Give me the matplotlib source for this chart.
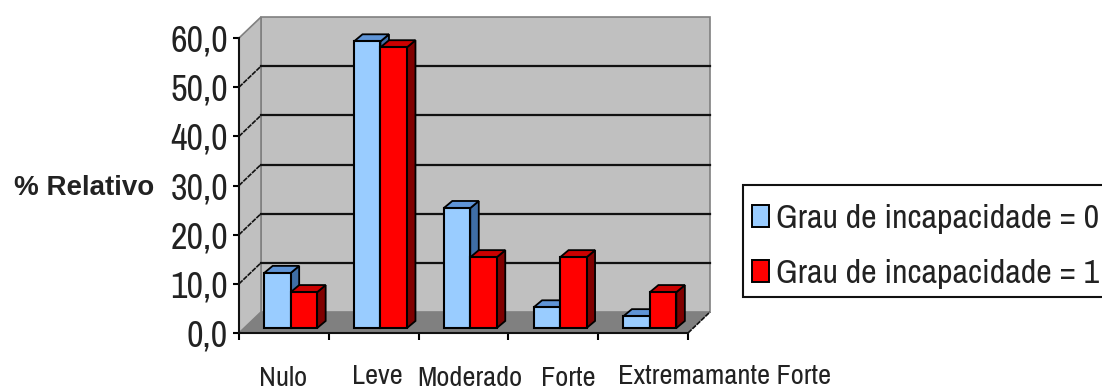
import numpy as np
import matplotlib
matplotlib.use("Agg")
import matplotlib.pyplot as plt
from matplotlib.patches import Polygon, Patch, Rectangle

plt.rcParams['font.family'] = ['Archivo Narrow', 'Liberation Sans', 'DejaVu Sans']

categories = ["Nulo", "Leve", "Moderado", "Forte", "Extremamante Forte"]
grau_0 = [11.2, 58.3, 24.4, 4.2, 2.4]
grau_1 = [7.3, 57.1, 14.4, 14.4, 7.3]
series_names = ["Grau de incapacidade = 0", "Grau de incapacidade = 1"]
yticks = [0, 10, 20, 30, 40, 50, 60]

# depth of the fake 3d box and of the bars, in data units
wall_dx, wall_dy = 0.245, 4.27
bar_dx, bar_dy = 0.095, 1.45
shift_x, floor_y = 0.075, 1.0
bar_w = 0.295

front = ["#99CCFF", "#FF0000"]
side = ["#3F6EA6", "#800000"]
top = ["#5F94D6", "#CC0000"]

# pixel offsets of the category labels below the axis
label_dx = [-1, 3.5, 6.5, 15, 81]
label_y = [-46, -43, -45, -45, -43]

fig = plt.figure(figsize=(11.02, 3.9), dpi=100)
ax = fig.add_axes([239/1102, 57/390, 449/1102, 295/390])
ax.set_xlim(-0.5, 4.5)
ax.set_ylim(0, 60)
ax.patch.set_visible(False)

x0, x1 = ax.get_xlim()
ytop = ax.get_ylim()[1]

# walls and floor
ax.add_patch(Polygon([(x0+wall_dx, wall_dy), (x1+wall_dx, wall_dy), (x1+wall_dx, ytop+wall_dy), (x0+wall_dx, ytop+wall_dy)],
                     fc="#C0C0C0", ec="#808080", lw=1.2, clip_on=False, zorder=1))
ax.add_patch(Polygon([(x0, 0), (x0+wall_dx, wall_dy), (x0+wall_dx, ytop+wall_dy), (x0, ytop)],
                     fc="#C0C0C0", ec="#808080", lw=1.2, clip_on=False, zorder=1))
ax.add_patch(Polygon([(x0, 0), (x1, 0), (x1+wall_dx, wall_dy), (x0+wall_dx, wall_dy)],
                     fc="#808080", ec="none", clip_on=False, zorder=1.5))

# gridlines go along the back wall and down the side wall
for v in yticks[1:-1]:
    ax.plot([x0+wall_dx, x1+wall_dx], [v+wall_dy, v+wall_dy], color="#111111", lw=1.6, clip_on=False, zorder=2)
    ax.plot([x0, x0+wall_dx], [v, v+wall_dy], color="#111111", lw=1.2, ls=(0, (3, 0.6)), clip_on=False, zorder=2)
ax.plot([x1, x1+wall_dx], [0, wall_dy], color="#111111", lw=1.2, ls=(0, (3, 0.6)), clip_on=False, zorder=2)

# bars, back to front so the red one covers the side of the blue one
z = 3
for i in range(len(categories)):
    for j, vals in enumerate([grau_0, grau_1]):
        left = i + shift_x + (j-1)*bar_w
        h = vals[i]
        b = floor_y
        ax.add_patch(Polygon([(left+bar_w, b), (left+bar_w+bar_dx, b+bar_dy), (left+bar_w+bar_dx, b+h+bar_dy), (left+bar_w, b+h)],
                             fc=side[j], ec="black", lw=1.3, clip_on=False, zorder=z))
        ax.add_patch(Polygon([(left, b+h), (left+bar_dx, b+h+bar_dy), (left+bar_w+bar_dx, b+h+bar_dy), (left+bar_w, b+h)],
                             fc=top[j], ec="black", lw=1.3, clip_on=False, zorder=z))
        ax.bar(left, h, bar_w, bottom=b, align="edge", color=front[j], edgecolor="black", lw=1.5, clip_on=False, zorder=z+0.5)
        z += 1

for s in ["top", "right"]:
    ax.spines[s].set_visible(False)
for s in ["left", "bottom"]:
    ax.spines[s].set_linewidth(1.5)
    ax.spines[s].set_color("#111111")
    ax.spines[s].set_zorder(30)

ax.set_yticks(yticks)
ax.set_yticklabels([f"{v:.1f}".replace(".", ",") for v in yticks], fontsize=26, color="#222222", va="center_baseline")
ax.tick_params(axis="y", length=4, width=1.5, pad=4)
ax.set_xticks(np.arange(x0, x1+0.5))
ax.set_xticklabels([])
ax.tick_params(axis="x", length=5, width=1.5)

for i, name in enumerate(categories):
    ax.annotate(name, xy=(i, 0), xytext=(label_dx[i], label_y[i]), textcoords="offset pixels",
                ha="center", va="center", fontsize=20.5, color="#222222", annotation_clip=False)

fig.text(84/1102, 1-188/390, "% Relativo", ha="center", va="center", fontsize=20, fontweight="bold",
         family=["Liberation Sans", "DejaVu Sans"], color="#222222")

# legend frame runs past the right edge of the figure
fig.add_artist(Rectangle((743/1102, 1-297/390), 400/1102, 112/390, transform=fig.transFigure,
                         fc="white", ec="#111111", lw=1.5, clip_on=False))
handles = [Patch(fc=front[0], ec="black", lw=1.4), Patch(fc=front[1], ec="black", lw=1.4)]
leg = fig.legend(handles, series_names, loc="upper left", bbox_to_anchor=(752/1102, 1-204/390),
                 borderaxespad=0, fontsize=24.5, frameon=False,
                 handlelength=0.5, handleheight=0.6, handletextpad=0.2,
                 labelspacing=0.74, borderpad=0)
for t in leg.get_texts():
    t.set_color("#222222")

fig.savefig("out.png", dpi=100)
